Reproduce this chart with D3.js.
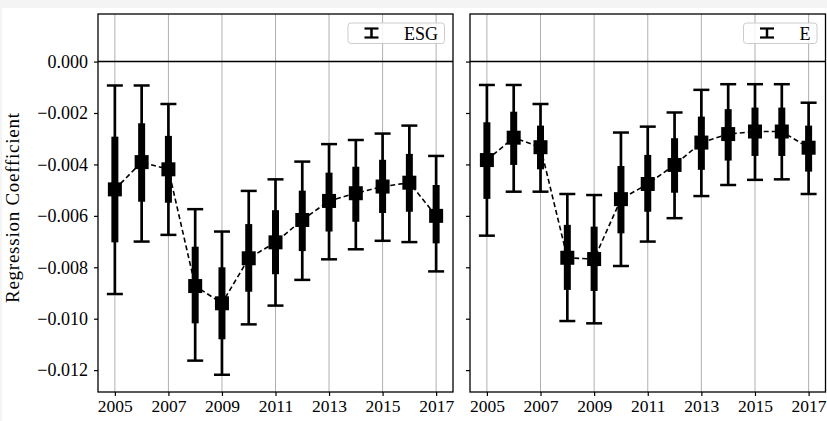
<!DOCTYPE html>
<html>
<head>
<meta charset="utf-8">
<script src="https://cdn.jsdelivr.net/npm/d3@7"></script>
<style>
  html, body { margin: 0; padding: 0; background: #f4f4f4; }
  svg { display: block; }
  text { font-family: "Liberation Serif", "Times New Roman", serif; fill: #000; }
</style>
</head>
<body>
<svg id="chart" width="827" height="421"></svg>
<script>
// ---------------- data ----------------
const years = [2005, 2006, 2007, 2008, 2009, 2010, 2011, 2012, 2013, 2014, 2015, 2016, 2017];
const xTickYears = [2005, 2007, 2009, 2011, 2013, 2015, 2017];
const yTicks = [0, -0.002, -0.004, -0.006, -0.008, -0.010, -0.012];

// Panel 1: ESG
const esgCoef     = [-0.00497, -0.00391, -0.00419, -0.00873, -0.00940, -0.00765, -0.00703, -0.00616, -0.00542, -0.00512, -0.00486, -0.00471, -0.00600];
const esgWideLo   = [-0.00904, -0.00700, -0.00674, -0.01163, -0.01218, -0.01022, -0.00949, -0.00849, -0.00769, -0.00730, -0.00697, -0.00702, -0.00816];
const esgWideHi   = [-0.00093, -0.00093, -0.00165, -0.00574, -0.00661, -0.00503, -0.00458, -0.00389, -0.00321, -0.00305, -0.00280, -0.00249, -0.00367];
const esgNarrowLo = [-0.00703, -0.00545, -0.00549, -0.01018, -0.01080, -0.00895, -0.00827, -0.00737, -0.00661, -0.00623, -0.00589, -0.00584, -0.00707];
const esgNarrowHi = [-0.00292, -0.00240, -0.00289, -0.00720, -0.00800, -0.00632, -0.00578, -0.00502, -0.00432, -0.00409, -0.00382, -0.00359, -0.00480];

// Panel 2: E
const eCoef     = [-0.00383, -0.00296, -0.00333, -0.00763, -0.00768, -0.00535, -0.00476, -0.00402, -0.00315, -0.00282, -0.00272, -0.00272, -0.00335];
const eWideLo   = [-0.00677, -0.00506, -0.00506, -0.01009, -0.01018, -0.00795, -0.00700, -0.00609, -0.00523, -0.00480, -0.00460, -0.00458, -0.00515];
const eWideHi   = [-0.00091, -0.00091, -0.00165, -0.00515, -0.00519, -0.00276, -0.00253, -0.00198, -0.00110, -0.00088, -0.00088, -0.00088, -0.00160];
const eNarrowLo = [-0.00534, -0.00402, -0.00419, -0.00888, -0.00892, -0.00668, -0.00584, -0.00510, -0.00421, -0.00385, -0.00367, -0.00367, -0.00428];
const eNarrowHi = [-0.00236, -0.00195, -0.00249, -0.00635, -0.00642, -0.00406, -0.00363, -0.00298, -0.00214, -0.00185, -0.00179, -0.00179, -0.00249];

const panels = [
  { label: "ESG", coef: esgCoef, wLo: esgWideLo, wHi: esgWideHi, nLo: esgNarrowLo, nHi: esgNarrowHi, left: 98,  right: 453,   showY: true },
  { label: "E",   coef: eCoef,   wLo: eWideLo,   wHi: eWideHi,   nLo: eNarrowLo,   nHi: eNarrowHi,   left: 470, right: 825.5, showY: false }
];
const yLabel = "Regression Coefficient";

// ---------------- drawing ----------------
const svg = d3.select("#chart");
svg.append("rect").attr("x", 2).attr("y", 8).attr("width", 825).attr("height", 413).attr("fill", "#ffffff");

const plotTop = 14, plotBottom = 392;
const y = d3.scaleLinear().domain([0.00185, -0.01285]).range([plotTop, plotBottom]);
const fmt = d => (d < 0 ? "\u2212" : "") + d3.format(".3f")(Math.abs(d));

panels.forEach(p => {
  const x = d3.scaleLinear().domain([2004.37, 2017.63]).range([p.left, p.right]);
  const g = svg.append("g");
  const w = p.right - p.left;

  // vertical grid at x ticks
  g.append("g").selectAll("line").data(xTickYears).join("line")
    .attr("x1", d => x(d)).attr("x2", d => x(d))
    .attr("y1", plotTop).attr("y2", plotBottom)
    .attr("stroke", "#b0b0b0").attr("stroke-width", 1);

  // zero line
  g.append("line")
    .attr("x1", p.left).attr("x2", p.right)
    .attr("y1", y(0)).attr("y2", y(0))
    .attr("stroke", "#000").attr("stroke-width", 1.5);

  // dashed connecting line
  const line = d3.line().x((d, i) => x(years[i])).y(d => y(d));
  g.append("path").datum(p.coef)
    .attr("d", line)
    .attr("fill", "none").attr("stroke", "#000")
    .attr("stroke-width", 1.6).attr("stroke-dasharray", "5,3");

  const idx = d3.range(years.length);
  // wide CI whiskers
  g.append("g").selectAll("line").data(idx).join("line")
    .attr("x1", i => x(years[i])).attr("x2", i => x(years[i]))
    .attr("y1", i => y(p.wHi[i])).attr("y2", i => y(p.wLo[i]))
    .attr("stroke", "#000").attr("stroke-width", 2.7);
  // caps
  const capHalf = 8;
  ["wHi", "wLo"].forEach(k => {
    g.append("g").selectAll("line").data(idx).join("line")
      .attr("x1", i => x(years[i]) - capHalf).attr("x2", i => x(years[i]) + capHalf)
      .attr("y1", i => y(p[k][i])).attr("y2", i => y(p[k][i]))
      .attr("stroke", "#000").attr("stroke-width", 2.5);
  });
  // narrow CI thick bars
  g.append("g").selectAll("line").data(idx).join("line")
    .attr("x1", i => x(years[i])).attr("x2", i => x(years[i]))
    .attr("y1", i => y(p.nHi[i])).attr("y2", i => y(p.nLo[i]))
    .attr("stroke", "#000").attr("stroke-width", 7);
  // square markers
  const ms = 14;
  g.append("g").selectAll("rect").data(idx).join("rect")
    .attr("x", i => x(years[i]) - ms / 2).attr("y", i => y(p.coef[i]) - ms / 2)
    .attr("width", ms).attr("height", ms).attr("fill", "#000");

  // axes
  const xAxis = d3.axisBottom(x).tickValues(xTickYears).tickFormat(d3.format("d")).tickSize(4).tickPadding(4);
  const xa = g.append("g").attr("transform", `translate(0,${plotBottom})`).call(xAxis);
  xa.select(".domain").remove();
  xa.selectAll(".tick line").attr("stroke", "#000").attr("stroke-width", 1.2);
  xa.selectAll(".tick text").attr("font-size", 17.5).attr("font-family", "Liberation Serif").attr("fill", "#000");

  const yAxis = d3.axisLeft(y).tickValues(yTicks).tickSize(4).tickPadding(6)
    .tickFormat(p.showY ? fmt : (() => ""));
  const ya = g.append("g").attr("transform", `translate(${p.left},0)`).call(yAxis);
  ya.select(".domain").remove();
  ya.selectAll(".tick line").attr("stroke", "#000").attr("stroke-width", 1.2);
  ya.selectAll(".tick text").attr("font-size", 18).attr("font-family", "Liberation Serif").attr("fill", "#000");

  // spines
  g.append("rect").attr("x", p.left).attr("y", plotTop).attr("width", w).attr("height", plotBottom - plotTop)
    .attr("fill", "none").attr("stroke", "#000").attr("stroke-width", 1.3);

  // legend
  const lg = g.append("g");
  const box = lg.append("rect");
  const txt = lg.append("text").text(p.label)
    .attr("font-size", 18).attr("text-anchor", "end")
    .attr("x", p.right - 15).attr("y", 39.5);
  const tw = txt.node().getComputedTextLength();
  const textStart = p.right - 15 - tw;
  const boxLeft = textStart - 56, boxRight = p.right - 8.5;
  box.attr("x", boxLeft).attr("y", 23).attr("width", boxRight - boxLeft).attr("height", 20.5)
    .attr("rx", 3).attr("fill", "#fff").attr("fill-opacity", 0.85)
    .attr("stroke", "#cccccc").attr("stroke-width", 1);
  const sx = boxLeft + 23.5;
  lg.append("line").attr("x1", sx).attr("x2", sx).attr("y1", 28.5).attr("y2", 37.5)
    .attr("stroke", "#000").attr("stroke-width", 2.5);
  [28.5, 37.5].forEach(yy => lg.append("line").attr("x1", sx - 7).attr("x2", sx + 7)
    .attr("y1", yy).attr("y2", yy).attr("stroke", "#000").attr("stroke-width", 2.2));
});

// y label
svg.append("text").text(yLabel)
  .attr("transform", `translate(19,${(plotTop + plotBottom) / 2 + 5}) rotate(-90)`)
  .attr("text-anchor", "middle").attr("font-size", 19)
  .attr("textLength", 190).attr("lengthAdjust", "spacing");
</script>
</body>
</html>
